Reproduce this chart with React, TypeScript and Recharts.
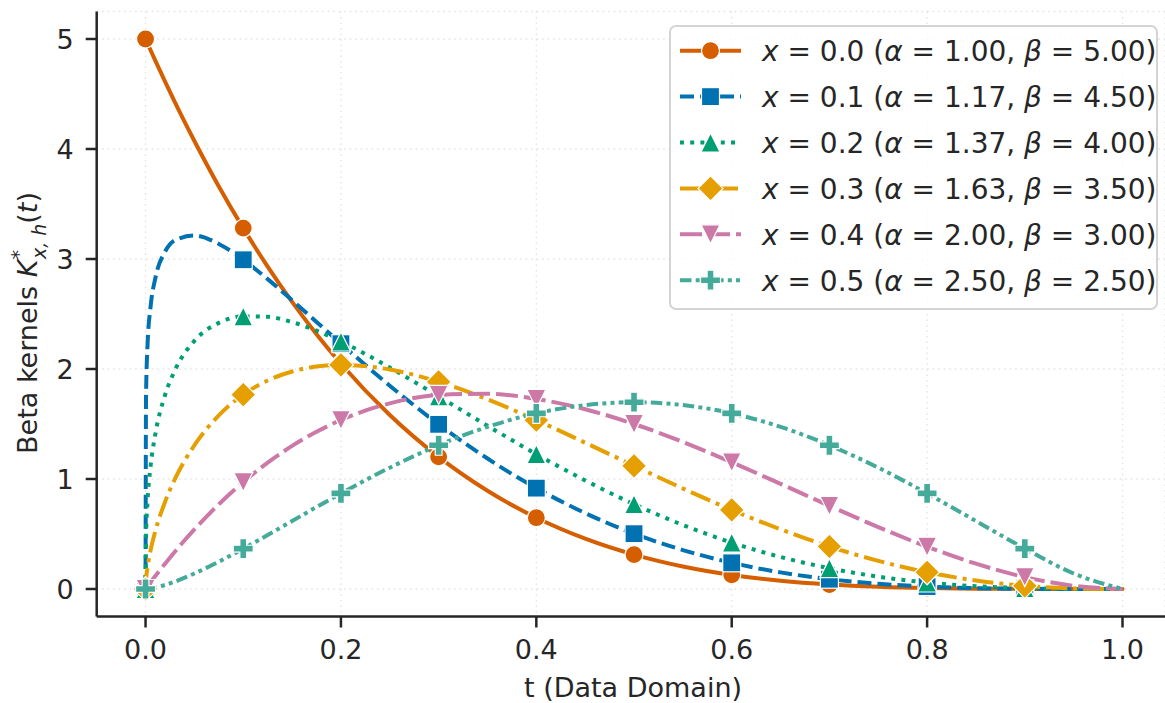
import React from 'react';
import { LineChart, Line, XAxis, YAxis, CartesianGrid } from 'recharts';

// t grid (denser near 0 where the kernels rise steeply)
const tGrid = [0, 0.0005, 0.002, 0.005, 0.01, 0.02, 0.03, 0.05, 0.075, 0.1, 0.125, 0.15, 0.175, 0.2, 0.25, 0.3, 0.35, 0.4, 0.45, 0.5, 0.55, 0.6, 0.65, 0.7, 0.75, 0.8, 0.85, 0.9, 0.95, 1.0];

const kernel00 = [5, 4.99, 4.96, 4.901, 4.803, 4.612, 4.426, 4.073, 3.66, 3.281, 2.931, 2.61, 2.316, 2.048, 1.582, 1.201, 0.893, 0.648, 0.458, 0.313, 0.205, 0.128, 0.075, 0.041, 0.02, 0.008, 0.003, 0.001, 0, 0];
const kernel01 = [0, 1.755, 2.21, 2.555, 2.825, 3.067, 3.17, 3.214, 3.137, 2.993, 2.817, 2.625, 2.428, 2.23, 1.848, 1.497, 1.186, 0.917, 0.69, 0.503, 0.354, 0.238, 0.151, 0.089, 0.048, 0.022, 0.008, 0.002, 0.0002, 0];
const kernel02 = [0, 0.478, 0.795, 1.105, 1.407, 1.764, 1.987, 2.256, 2.419, 2.478, 2.474, 2.426, 2.348, 2.25, 2.013, 1.751, 1.484, 1.226, 0.987, 0.771, 0.582, 0.422, 0.291, 0.189, 0.112, 0.059, 0.025, 0.008, 0.001, 0];
const kernel03 = [0, 0.082, 0.195, 0.344, 0.526, 0.793, 0.998, 1.307, 1.578, 1.767, 1.895, 1.977, 2.022, 2.037, 1.995, 1.883, 1.724, 1.535, 1.33, 1.12, 0.914, 0.719, 0.542, 0.386, 0.256, 0.152, 0.077, 0.029, 0.005, 0];
const kernel04 = [0, 0.006, 0.024, 0.059, 0.118, 0.23, 0.339, 0.542, 0.77, 0.972, 1.148, 1.301, 1.429, 1.536, 1.688, 1.764, 1.775, 1.728, 1.634, 1.5, 1.337, 1.152, 0.956, 0.756, 0.563, 0.384, 0.23, 0.108, 0.029, 0];
const kernel05 = [0, 0.0002, 0.001, 0.005, 0.013, 0.037, 0.067, 0.141, 0.248, 0.367, 0.491, 0.618, 0.745, 0.869, 1.103, 1.307, 1.474, 1.597, 1.672, 1.698, 1.672, 1.597, 1.474, 1.307, 1.103, 0.869, 0.618, 0.367, 0.141, 0];

const markerTimes = [0, 0.1, 0.2, 0.3, 0.4, 0.5, 0.6, 0.7, 0.8, 0.9];
const xTicks = [0, 0.2, 0.4, 0.6, 0.8, 1.0];
const yTicks = [0, 1, 2, 3, 4, 5];

const xValues = ['0.0', '0.1', '0.2', '0.3', '0.4', '0.5'];
const alphaValues = ['1.00', '1.17', '1.37', '1.63', '2.00', '2.50'];
const betaValues = ['5.00', '4.50', '4.00', '3.50', '3.00', '2.50'];

const seriesKeys = ['k0', 'k1', 'k2', 'k3', 'k4', 'k5'];
const seriesValues = [kernel00, kernel01, kernel02, kernel03, kernel04, kernel05];

const data = tGrid.map((t, i) => {
  const row: Record<string, number> = { t };
  seriesKeys.forEach((k, j) => { row[k] = seriesValues[j][i]; });
  return row;
});

// styles
const LW = 4;
const styles = [
  { color: '#D55E00', dash: undefined as string | undefined, marker: 'circle' },
  { color: '#0072B2', dash: '14 6', marker: 'square' },
  { color: '#009E73', dash: '4 6.2', marker: 'triangle' },
  { color: '#E69F00', dash: '21 6 4 6', marker: 'diamond' },
  { color: '#CC79A7', dash: '22 6', marker: 'triangleDown' },
  { color: '#44AA99', dash: '11.5 4.2 4 4.2 4 4.2', marker: 'plus' },
];

const INK = '#262626';
const FONT = 'DejaVu Sans, sans-serif';

function Marker({ shape, cx, cy, color }: { shape: string; cx: number; cy: number; color: string }) {
  const common = { fill: color, stroke: '#ffffff', strokeWidth: 1.2 };
  if (shape === 'circle') return <circle cx={cx} cy={cy} r={9} {...common} />;
  if (shape === 'square') return <rect x={cx - 9} y={cy - 9} width={18} height={18} {...common} />;
  if (shape === 'triangle') {
    const s = 9.5;
    return <polygon points={`${cx},${cy - s} ${cx + s},${cy + s} ${cx - s},${cy + s}`} {...common} />;
  }
  if (shape === 'triangleDown') {
    const s = 9.5;
    return <polygon points={`${cx},${cy + s} ${cx + s},${cy - s} ${cx - s},${cy - s}`} {...common} />;
  }
  if (shape === 'diamond') {
    const s = 12.5;
    return <polygon points={`${cx},${cy - s} ${cx + s},${cy} ${cx},${cy + s} ${cx - s},${cy}`} {...common} />;
  }
  // filled plus
  const o = 10, a = 3.4;
  const pts = [
    [-a, -o], [a, -o], [a, -a], [o, -a], [o, a], [a, a], [a, o], [-a, o], [-a, a], [-o, a], [-o, -a], [-a, -a],
  ].map(([dx, dy]) => `${cx + dx},${cy + dy}`).join(' ');
  return <polygon points={pts} {...common} />;
}

function makeDot(shape: string, color: string) {
  return (props: any) => {
    const { cx, cy, payload, index } = props;
    const show = markerTimes.some((m) => Math.abs(m - payload.t) < 1e-9);
    if (!show || cx == null || cy == null) return <g key={`d-${index}`} />;
    return <g key={`d-${index}`}><Marker shape={shape} cx={cx} cy={cy} color={color} /></g>;
  };
}

const XLabel = () => (
  <text x={633} y={697} textAnchor="middle" fontSize={27} fill={INK} fontFamily={FONT}>t (Data Domain)</text>
);

const YLabel = () => (
  <text x={36.5} y={323} transform="rotate(-90, 36.5, 323)" textAnchor="middle" fontSize={27} fill={INK} fontFamily={FONT}>
    {'Beta kernels '}
    <tspan fontStyle="italic">K</tspan>
    <tspan fontSize={19} dy={-12}>*</tspan>
    <tspan fontSize={19} fontStyle="italic" dx={-9} dy={21}>x, h</tspan>
    <tspan dy={-9}>(</tspan>
    <tspan fontStyle="italic">t</tspan>
    <tspan>)</tspan>
  </text>
);

function LegendBox() {
  const left = 670, top = 26, w = 487, h = 283;
  return (
    <svg width={1165} height={703} style={{ position: 'absolute', left: 0, top: 0, pointerEvents: 'none' }}>
      <rect x={left} y={top} width={w} height={h} rx={6} ry={6} fill="rgba(255,255,255,0.8)" stroke="#d4d4d4" strokeWidth={2} />
      {styles.map((s, i) => {
        const cy = 50.7 + 45.9 * i;
        return (
          <g key={i}>
            <line x1={680} x2={741} y1={cy} y2={cy} stroke={s.color} strokeWidth={LW} strokeDasharray={s.dash} strokeLinecap="butt" />
            <Marker shape={s.marker} cx={710.5} cy={cy} color={s.color} />
            <text x={762} y={cy + 10.5} fontSize={28} fill={INK} fontFamily={FONT}>
              <tspan fontStyle="italic">x</tspan>
              <tspan>{` = ${xValues[i]} (`}</tspan>
              <tspan fontStyle="italic">α</tspan>
              <tspan>{` = ${alphaValues[i]}, `}</tspan>
              <tspan fontStyle="italic">β</tspan>
              <tspan>{` = ${betaValues[i]})`}</tspan>
            </text>
          </g>
        );
      })}
    </svg>
  );
}

export default function App() {
  const axisStroke = { stroke: INK, strokeWidth: 2.5 };
  const tickStyle = { fill: INK, fontSize: 27, fontFamily: FONT };
  return (
    <div style={{ position: 'absolute', left: 0, top: 0, width: 1165, height: 703, background: '#ffffff', overflow: 'hidden' }}>
      <LineChart width={1165} height={703} data={data} margin={{ top: 11.5, right: 0, bottom: 0, left: 0 }}>
        <CartesianGrid stroke="#e2e2e2" strokeWidth={1.3} strokeDasharray="1.5 4" />
        <XAxis
          type="number"
          dataKey="t"
          domain={[-0.05, 1.0435]}
          allowDataOverflow
          ticks={xTicks}
          interval={0}
          tickFormatter={(v: number) => v.toFixed(1)}
          height={86.5}
          tickSize={11}
          tickMargin={12}
          axisLine={axisStroke}
          tickLine={axisStroke}
          tick={tickStyle}
          label={XLabel}
        />
        <YAxis
          type="number"
          domain={[-0.25, 5.25]}
          allowDataOverflow
          ticks={yTicks}
          interval={0}
          width={96.7}
          tickSize={11}
          tickMargin={12}
          axisLine={axisStroke}
          tickLine={axisStroke}
          tick={tickStyle}
          label={YLabel}
        />
        {styles.map((s, i) => (
          <Line
            key={seriesKeys[i]}
            dataKey={seriesKeys[i]}
            type="monotone"
            stroke={s.color}
            strokeWidth={LW}
            strokeDasharray={s.dash}
            strokeLinecap={s.dash ? 'butt' : 'round'}
            dot={makeDot(s.marker, s.color)}
            activeDot={false}
            isAnimationActive={false}
          />
        ))}
      </LineChart>
      <LegendBox />
    </div>
  );
}
